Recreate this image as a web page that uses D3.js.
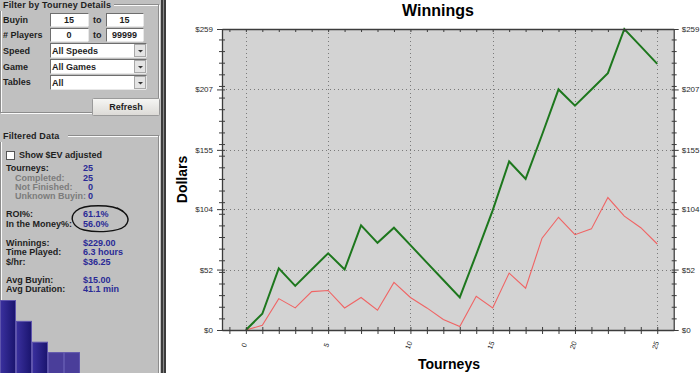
<!DOCTYPE html>
<html>
<head>
<meta charset="utf-8">
<script src="https://cdn.jsdelivr.net/npm/d3@7"></script>
<style>
  html, body { margin: 0; padding: 0; background: #fff; }
  svg { display: block; }
  .ui { font-family: "Liberation Sans", Arial, sans-serif; font-weight: bold; font-size: 9px; fill: #1e1e1e; }
  .ui.sub { fill: #7c7c7c; }
  .ui.val { fill: #2a2a96; }
  .chart-text { font-family: "Liberation Sans", Arial, sans-serif; }
</style>
</head>
<body>
<div id="app"></div>
<script>
// chart data
const tourneyNo = [0, 1, 2, 3, 4, 5, 6, 7, 8, 9, 10, 11, 12, 13, 14, 15, 16, 17, 18, 19, 20, 21, 22, 23, 24, 25]
const winnings = [0, 14, 53, 38, 52, 66, 52, 90, 75, 88, 73, 58, 43, 28, 65, 103, 145, 130, 168, 207, 193, 207, 221, 259, 244, 229]
const evWinnings = [0, 4, 27, 19, 33, 34, 19, 28, 17, 41, 28, 19, 9, 3, 29, 19, 49, 36, 79, 97, 82, 87, 114, 98, 88, 74]

const yTicks = [0, 52, 104, 155, 207, 259]
const yTickLabels = ["$0", "$52", "$104", "$155", "$207", "$259"]
const xTicks = [0, 5, 10, 15, 20, 25]
const xTickLabels = ["0", "5", "10", "15", "20", "25"]

// left panel data
const filterLabels = ["Buyin", "# Players", "Speed", "Game", "Tables"]
const rangeFrom = ["15", "0"]
const rangeTo = ["15", "99999"]
const dropChoices = ["All Speeds", "All Games", "All"]
const statLabels = ["Tourneys:", "Completed:", "Not Finished:", "Unknown Buyin:", "ROI%:", "In the Money%:", "Winnings:", "Time Played:", "$/hr:", "Avg Buyin:", "Avg Duration:"]
const statValues = ["25", "25", "0", "0", "61.1%", "56.0%", "$229.00", "6.3 hours", "$36.25", "$15.00", "41.1 min"]
const finishCounts = [7, 5, 3, 2, 2]

const W = 700, H = 373

const svg = d3.select("#app").append("svg")
  .attr("width", W)
  .attr("height", H)

const defs = svg.append("defs")
const grad = defs.append("linearGradient").attr("id", "barGrad")
grad.append("stop").attr("offset", "0%").attr("stop-color", "#3a309e")
grad.append("stop").attr("offset", "100%").attr("stop-color", "#1a146e")
const btnGrad = defs.append("linearGradient").attr("id", "btnGrad").attr("x1", 0).attr("x2", 0).attr("y1", 0).attr("y2", 1)
btnGrad.append("stop").attr("offset", "0%").attr("stop-color", "#f6f6f4")
btnGrad.append("stop").attr("offset", "100%").attr("stop-color", "#dcdad6")

// ---------- left panel ----------
const panel = svg.append("g")
panel.append("rect").attr("x", 0).attr("y", 0).attr("width", 161).attr("height", H).attr("fill", "#c0c0c0")

// separator between panel and chart
panel.append("rect").attr("x", 161).attr("y", 0).attr("width", 5).attr("height", H).attr("fill", "#3c3c3c")
panel.append("line").attr("x1", 163.5).attr("x2", 163.5).attr("y1", 0).attr("y2", H).attr("stroke", "#8a8a8a")

function groupBox(y, h, title, titleW) {
  panel.append("rect").attr("x", 1.5).attr("y", y + 0.5).attr("width", 158).attr("height", h)
    .attr("fill", "none").attr("stroke", "#fafafa")
  panel.append("rect").attr("x", 0.5).attr("y", y - 0.5).attr("width", 158).attr("height", h)
    .attr("fill", "none").attr("stroke", "#8c8c8c")
  panel.append("rect").attr("x", 0).attr("y", y - 6).attr("width", titleW).attr("height", 12).attr("fill", "#c0c0c0")
  panel.append("text").attr("class", "ui").attr("x", 3).attr("y", y + 3).attr("fill", "#333")
    .attr("letter-spacing", 0.15).text(title)
}
groupBox(5, 108, "Filter by Tourney Details", 114)
groupBox(136, 260, "Filtered Data", 68)

const labelY = [20, 35, 51, 67, 82]
panel.selectAll("text.flabel").data(filterLabels).join("text")
  .attr("class", "ui flabel").attr("x", 3).attr("y", (d, i) => labelY[i] + 3).text(d => d)

function inputBox(x, y, w, h) {
  panel.append("rect").attr("x", x + 0.5).attr("y", y + 0.5).attr("width", w).attr("height", h)
    .attr("fill", "#fff").attr("stroke", "#6e6e6e")
  panel.append("path").attr("d", `M${x + w + 0.5},${y + 0.5}V${y + h + 0.5}H${x + 0.5}`)
    .attr("fill", "none").attr("stroke", "#e8e8e8")
}

rangeFrom.forEach((v, i) => {
  const y = 13 + i * 15
  inputBox(50, y, 38, 13)
  inputBox(106, y, 37, 13)
  panel.append("text").attr("class", "ui").attr("x", 69).attr("y", y + 10).attr("text-anchor", "middle").text(v)
  panel.append("text").attr("class", "ui").attr("x", 124.5).attr("y", y + 10).attr("text-anchor", "middle").text(rangeTo[i])
  panel.append("text").attr("class", "ui").attr("x", 93).attr("y", y + 10).text("to")
})

dropChoices.forEach((v, i) => {
  const y = 43 + i * 16
  inputBox(50, y, 96, 14)
  panel.append("text").attr("class", "ui").attr("x", 52).attr("y", y + 10.5).text(v)
  panel.append("rect").attr("x", 134.5).attr("y", y + 1.5).attr("width", 11).attr("height", 12)
    .attr("fill", "#e4e4e4").attr("stroke", "#a8a8a8")
  panel.append("path").attr("d", `M138,${y + 7}h5l-2.5,2.5z`).attr("fill", "#333")
})

// refresh button
panel.append("rect").attr("x", 92.5).attr("y", 98.5).attr("width", 67).attr("height", 17).attr("rx", 1)
  .attr("fill", "url(#btnGrad)").attr("stroke", "#9a9a9a")
panel.append("text").attr("class", "ui").attr("x", 126).attr("y", 110).attr("text-anchor", "middle").text("Refresh")

// EV checkbox
panel.append("rect").attr("x", 6.5).attr("y", 151.5).attr("width", 8).attr("height", 8)
  .attr("fill", "#fff").attr("stroke", "#555")
panel.append("text").attr("class", "ui").attr("x", 19).attr("y", 158).text("Show $EV adjusted")

const statY = [168, 178, 187, 196, 214, 224, 243, 252, 262, 280, 289]
const subRows = [1, 2, 3]
panel.selectAll("text.slabel").data(statLabels).join("text")
  .attr("class", (d, i) => subRows.includes(i) ? "ui slabel sub" : "ui slabel")
  .attr("x", (d, i) => subRows.includes(i) ? 15 : 6)
  .attr("y", (d, i) => statY[i] + 3)
  .text(d => d)
panel.selectAll("text.sval").data(statValues).join("text")
  .attr("class", "ui sval val")
  .attr("x", (d, i) => (i === 2 || i === 3) ? 88 : 83)
  .attr("y", (d, i) => statY[i] + 3)
  .text(d => d)

// hand drawn ring around ROI / ITM
panel.append("path")
  .attr("d", "M123,211 C112,204 84,204 76,211 C69,217 72,227 84,230 C97,233 118,232 125,226 C131,220 128,213 117,208")
  .attr("fill", "none").attr("stroke", "#111").attr("stroke-width", 1.4)

// finishing places bars
const bx = d3.scaleBand().domain(d3.range(finishCounts.length)).range([0, 80]).padding(0)
const bh = d3.scaleLinear().domain([0, 7]).range([0, 73])
panel.selectAll("rect.fbar").data(finishCounts).join("rect")
  .attr("class", "fbar")
  .attr("x", (d, i) => bx(i) + 0.5)
  .attr("y", d => H - bh(d) + 0.5)
  .attr("width", bx.bandwidth() - 1)
  .attr("height", d => bh(d) + 2)
  .attr("fill", (d, i) => i < 3 ? "url(#barGrad)" : "#4a3e9a")
  .attr("stroke", "#5e54ac")

// ---------- chart ----------
const chart = svg.append("g").attr("class", "chart-text")
const plotL = 222, plotR = 673.7, plotT = 29, plotB = 330

const x = d3.scaleLinear().domain([-1.45, 26]).range([plotL, plotR])
const y = d3.scaleLinear().domain([0, 259]).range([plotB, plotT])

chart.append("rect").attr("x", plotL).attr("y", plotT).attr("width", plotR - plotL).attr("height", plotB - plotT)
  .attr("fill", "#d3d3d3")

// dotted grid
chart.append("g").selectAll("line").data(xTicks).join("line")
  .attr("x1", d => Math.round(x(d)) + 0.5).attr("x2", d => Math.round(x(d)) + 0.5)
  .attr("y1", plotT).attr("y2", plotB)
  .attr("stroke", "#7a7a7a").attr("stroke-dasharray", "1,3")
chart.append("g").selectAll("line").data(yTicks.slice(1, -1)).join("line")
  .attr("x1", plotL).attr("x2", plotR)
  .attr("y1", d => Math.round(y(d)) + 0.5).attr("y2", d => Math.round(y(d)) + 0.5)
  .attr("stroke", "#7a7a7a").attr("stroke-dasharray", "1,3")

const line = d3.line().x((d, i) => x(tourneyNo[i])).y(d => y(d))
chart.append("path").datum(evWinnings).attr("d", line)
  .attr("fill", "none").attr("stroke", "#f06464").attr("stroke-width", 1.1)
chart.append("path").datum(winnings).attr("d", line)
  .attr("fill", "none").attr("stroke", "#1d771d").attr("stroke-width", 2)

// axes
const axisColor = "#3c3c3c"
const minorY = d3.range(0, 260, 10)
const minorX = d3.range(-1, 26, 1)

function styleAxis(g) {
  g.select(".domain").attr("stroke", axisColor).attr("stroke-width", 1.3)
  g.selectAll(".tick line").attr("stroke", axisColor)
  g.selectAll(".tick text").attr("fill", "#2a2a2a").attr("font-family", "Liberation Sans, Arial, sans-serif").attr("font-size", 8)
}

// left axis: minor then major
chart.append("g").attr("transform", `translate(${plotL},0)`)
  .call(d3.axisLeft(y).tickValues(minorY).tickSize(3).tickSizeOuter(0).tickFormat(""))
  .call(g => g.selectAll(".tick line").attr("x2", -3).attr("x1", 3))
  .call(styleAxis)
chart.append("g").attr("transform", `translate(${plotL},0)`)
  .call(d3.axisLeft(y).tickValues(yTicks).tickSize(5).tickSizeOuter(0).tickPadding(4).tickFormat((d, i) => yTickLabels[i]))
  .call(g => g.selectAll(".tick line").attr("x1", 3))
  .call(g => g.select(".domain").remove())
  .call(styleAxis)

// right axis
chart.append("g").attr("transform", `translate(${plotR},0)`)
  .call(d3.axisRight(y).tickValues(minorY).tickSize(3).tickSizeOuter(0).tickFormat(""))
  .call(g => g.selectAll(".tick line").attr("x1", -2))
  .call(styleAxis)
chart.append("g").attr("transform", `translate(${plotR},0)`)
  .call(d3.axisRight(y).tickValues(yTicks).tickSize(5).tickSizeOuter(0).tickPadding(3).tickFormat((d, i) => yTickLabels[i]))
  .call(g => g.selectAll(".tick line").attr("x1", -2))
  .call(g => g.select(".domain").remove())
  .call(styleAxis)

// bottom axis
chart.append("g").attr("transform", `translate(0,${plotB})`)
  .call(d3.axisBottom(x).tickValues(minorX).tickSize(4).tickSizeOuter(0).tickFormat(""))
  .call(g => g.selectAll(".tick line").attr("y1", -3))
  .call(styleAxis)
chart.append("g").attr("transform", `translate(0,${plotB})`)
  .call(d3.axisBottom(x).tickValues(xTicks).tickSize(0).tickFormat((d, i) => xTickLabels[i]))
  .call(g => g.select(".domain").remove())
  .call(styleAxis)
  .call(g => g.selectAll(".tick text")
    .attr("y", 0).attr("dy", 0)
    .attr("font-size", 7)
    .attr("text-anchor", "middle")
    .attr("transform", "translate(0,16) rotate(-70)"))

// top axis
chart.append("g").attr("transform", `translate(0,${plotT})`)
  .call(d3.axisTop(x).tickValues(minorX).tickSize(3).tickSizeOuter(0).tickFormat(""))
  .call(g => g.selectAll(".tick line").attr("y2", 3).attr("y1", 0))
  .call(styleAxis)

// titles
chart.append("text").attr("x", 438).attr("y", 16).attr("text-anchor", "middle")
  .attr("font-size", 16).attr("font-weight", "bold").attr("fill", "#000").text("Winnings")
chart.append("text").attr("transform", "translate(187,179.5) rotate(-90)").attr("text-anchor", "middle")
  .attr("font-size", 14).attr("font-weight", "bold").attr("fill", "#000").text("Dollars")
chart.append("text").attr("x", 449).attr("y", 369).attr("text-anchor", "middle")
  .attr("font-size", 14).attr("font-weight", "bold").attr("fill", "#000").text("Tourneys")
</script>
</body>
</html>
